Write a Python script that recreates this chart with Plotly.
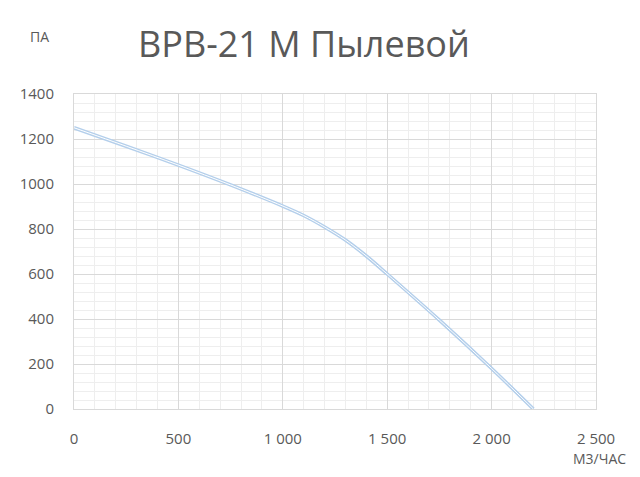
import plotly.graph_objects as go

flow = [0, 250, 500, 750, 1000, 1100, 1200, 1300, 1400, 1500, 1750, 2000, 2200]
pressure = [1250, 1168, 1084, 996, 902, 860, 809, 751, 680, 600, 395, 180, 0]

x_ticks = [0, 500, 1000, 1500, 2000, 2500]
x_labels = ["0", "500", "1 000", "1 500", "2 000", "2 500"]
y_ticks = [0, 200, 400, 600, 800, 1000, 1200, 1400]

title_text = "ВРВ-21 М Пылевой"
y_title = "ПА"
x_title = "М3/ЧАС"

FONT = "Open Sans"
TXT = "#595959"

fig = go.Figure()
fig.add_trace(go.Scatter(x=flow, y=pressure, mode="lines",
                         line=dict(color="#b4cfeb", width=3.6, shape="spline", smoothing=0.9),
                         hoverinfo="skip", showlegend=False))
fig.add_trace(go.Scatter(x=flow, y=pressure, mode="lines",
                         line=dict(color="#ffffff", width=1.0, shape="spline", smoothing=0.9),
                         hoverinfo="skip", showlegend=False))

# page is drawn with an 8px body offset
OFF = 8
W, H = 632, 469
L, T = 71 - OFF, 94 - OFF
R = OFF + W - 596
B = OFF + H - 409
pw, ph = W - L - R, H - T - B


def px_x(p):
    return (p - OFF - L) / pw


def px_y(p):
    return (OFF + H - B - p) / ph


fig.update_layout(
    width=W, height=H,
    margin=dict(l=L, r=R, t=T, b=B),
    paper_bgcolor="white", plot_bgcolor="white",
    font=dict(family=FONT, color=TXT, size=15),
    xaxis=dict(range=[0, 2500], tickvals=x_ticks, ticktext=x_labels,
               showgrid=True, gridcolor="#d9d9d9", gridwidth=1,
               minor=dict(dtick=100, showgrid=True, gridcolor="#eeeeee", gridwidth=1),
               zeroline=False, showline=True, linecolor="#d9d9d9", mirror=True,
               ticks="", ticklabelstandoff=16, tickfont=dict(size=15, color=TXT)),
    yaxis=dict(range=[0, 1400], tickvals=y_ticks,
               showgrid=True, gridcolor="#d9d9d9", gridwidth=1,
               minor=dict(dtick=40, showgrid=True, gridcolor="#eeeeee", gridwidth=1),
               zeroline=False, showline=True, linecolor="#d9d9d9", mirror=True,
               ticks="", ticklabelstandoff=16, tickfont=dict(size=15, color=TXT)),
)

fig.add_annotation(text=title_text, xref="paper", yref="paper",
                   x=px_x(302), y=px_y(44), xanchor="center", yanchor="middle",
                   showarrow=False, font=dict(family=FONT, size=36, color=TXT))
fig.add_annotation(text=y_title, xref="paper", yref="paper",
                   x=px_x(36), y=px_y(37), xanchor="center", yanchor="middle",
                   showarrow=False, font=dict(family=FONT, size=14, color=TXT))
fig.add_annotation(text=x_title, xref="paper", yref="paper",
                   x=px_x(600), y=px_y(459), xanchor="center", yanchor="middle",
                   showarrow=False, font=dict(family=FONT, size=14, color=TXT))

fig.write_html("out.html")
